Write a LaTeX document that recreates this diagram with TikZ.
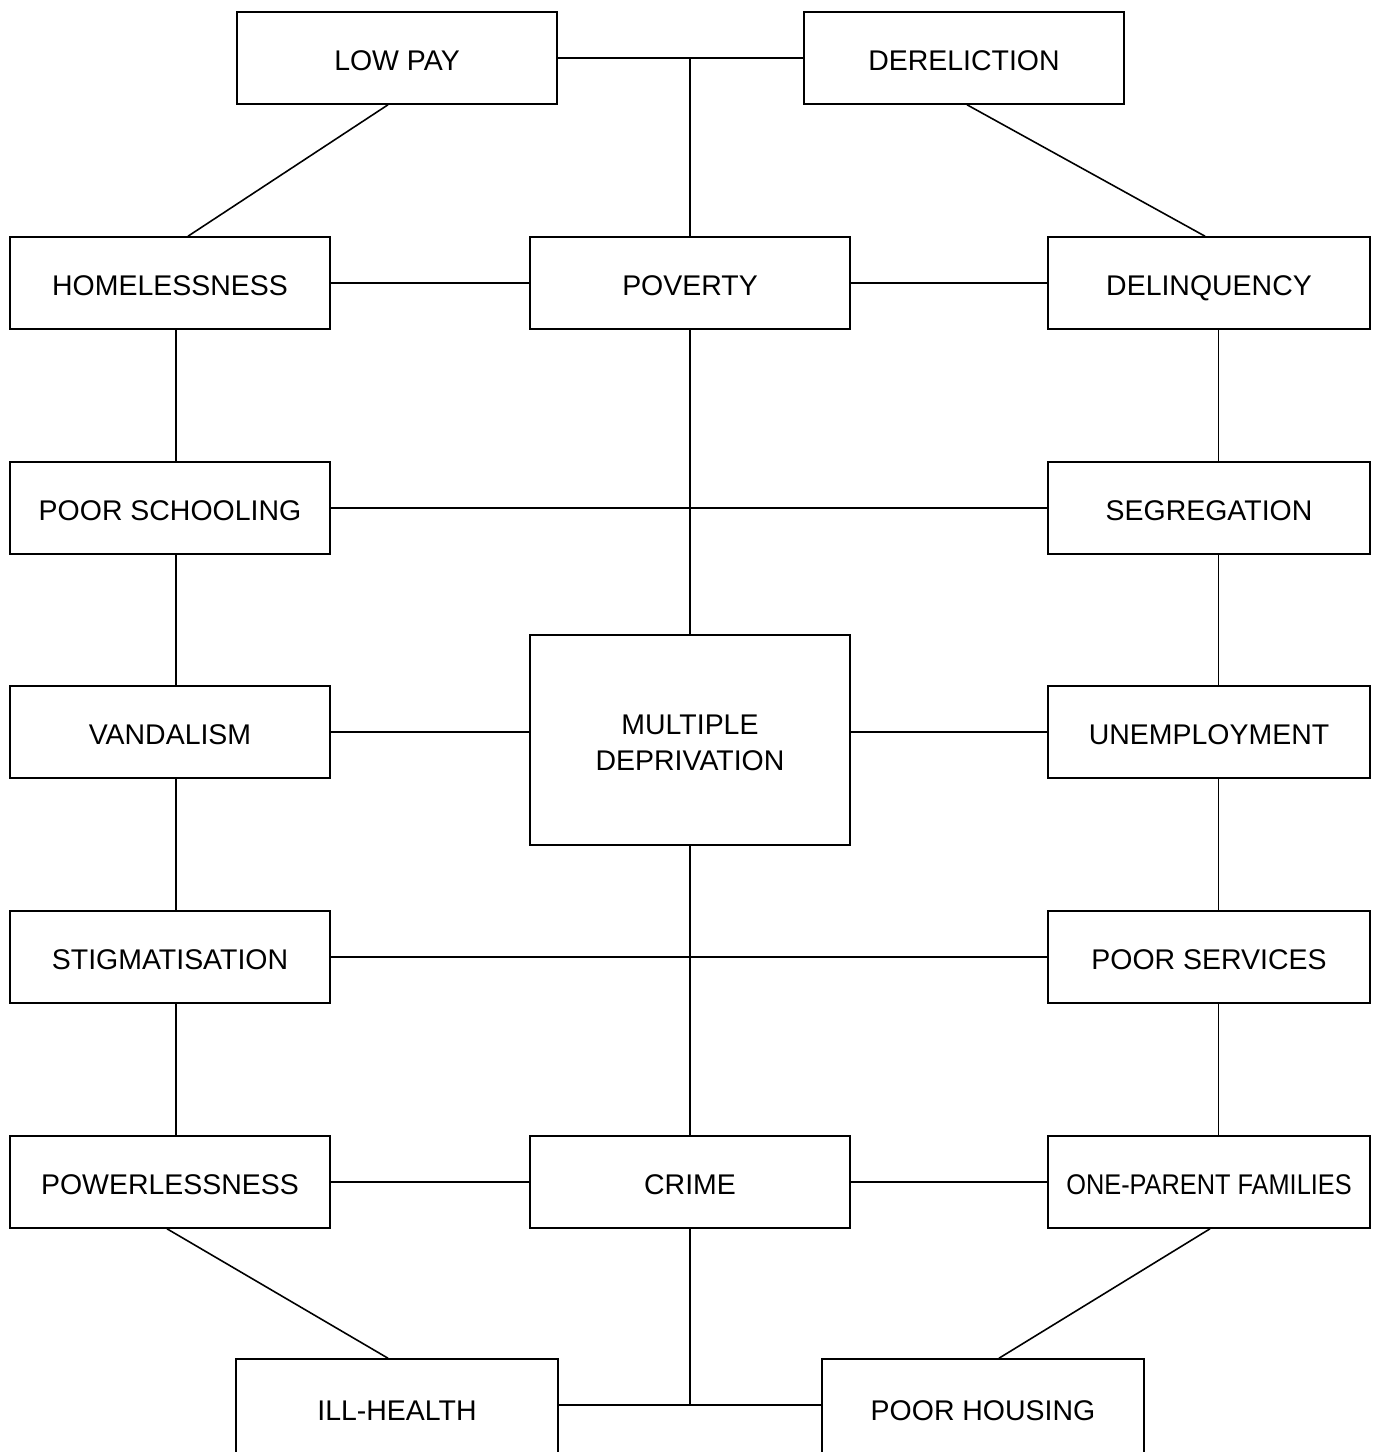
\documentclass[tikz,border=0pt]{standalone}
\usepackage{fontspec}
\setmainfont{Liberation Sans}
\usepackage{tikz}

\begin{document}
\begin{tikzpicture}[x=0.02cm, y=-0.02cm, line width=0.9pt,
  box/.style={draw, rectangle, inner sep=0pt, minimum width=6.4cm, minimum height=1.84cm,
    font=\fontsize{16.2}{20.5}\selectfont, align=center, text height=13.8pt, text depth=0pt},
  rbox/.style={box, minimum width=6.44cm},
  lowbox/.style={box, minimum width=6.44cm, minimum height=1.96cm}]
\useasboundingbox (0,0) rectangle (1378,1452);
% top row
\node[box](lowpay) at (397,58){LOW PAY};
\node[box](dereliction) at (964,58){DERELICTION};
% left column
\node[box](homeless) at (170,283){HOMELESSNESS};
\node[box](school) at (170,508){POOR SCHOOLING};
\node[box](vandal) at (170,732){VANDALISM};
\node[box](stigma) at (170,957){STIGMATISATION};
\node[box](power) at (170,1182){POWERLESSNESS};
% centre column
\node[box](poverty) at (690,283){POVERTY};
\node[box, minimum height=4.2cm, text height=34.3pt](md) at (690,740){MULTIPLE\\DEPRIVATION};
\node[box](crime) at (690,1182){CRIME};
% right column
\node[rbox](delinq) at (1209,283){DELINQUENCY};
\node[rbox](segreg) at (1209,508){SEGREGATION};
\node[rbox](unemp) at (1209,732){UNEMPLOYMENT};
\node[rbox](services) at (1209,957){POOR SERVICES};
\node[rbox](oneparent) at (1209,1182){\scalebox{0.89}[1]{ONE-PARENT FAMILIES}};
% bottom row
\node[lowbox](illhealth) at (397,1408){ILL-HEALTH};
\node[lowbox](housing) at (983,1408){POOR HOUSING};

\draw (lowpay) -- (dereliction);
\draw (poverty) -- (poverty |- lowpay);
\draw (homeless) -- (poverty);
\draw (poverty) -- (delinq);
\draw (school) -- (segreg);
\draw (poverty) -- (md);
\draw (vandal) -- (vandal -| md.west);
\draw (unemp) -- (unemp -| md.east);
\draw (stigma) -- (services);
\draw (md) -- (crime);
\draw (power) -- (crime);
\draw (crime) -- (oneparent);
\draw (crime) -- (crime |- 0,1405);
\draw (illhealth.east |- 0,1405) -- (housing.west |- 0,1405);

% side chains
\foreach \a/\b in {homeless/school, school/vandal, vandal/stigma, stigma/power}
  \draw ([xshift=0.12cm]\a.south) -- ([xshift=0.12cm]\b.north);
\foreach \a/\b in {delinq/segreg, segreg/unemp, unemp/services, services/oneparent}
  \draw ([xshift=0.19cm]\a.south) -- ([xshift=0.19cm]\b.north);

% diagonals
\draw ([xshift=-0.18cm]lowpay.south) -- ([xshift=0.36cm]homeless.north);
\draw ([xshift=0.06cm]dereliction.south) -- ([xshift=-0.08cm]delinq.north);
\draw ([xshift=-0.06cm]power.south) -- ([xshift=-0.18cm]illhealth.north);
\draw ([xshift=0.02cm]oneparent.south) -- ([xshift=0.32cm]housing.north);
\end{tikzpicture}
\end{document}
